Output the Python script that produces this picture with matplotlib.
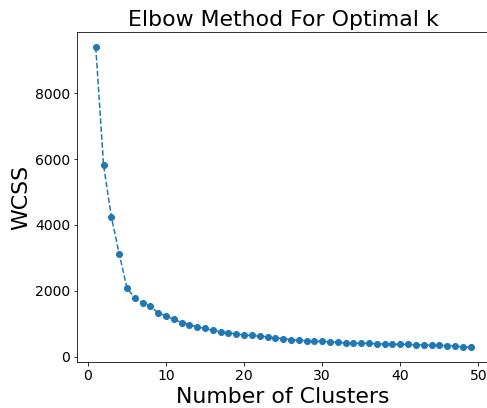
import matplotlib
matplotlib.use("Agg")
import matplotlib.pyplot as plt

k_values = list(range(1, 50))
wcss = [9400, 5820, 4245, 3130, 2080, 1790, 1640, 1530, 1330, 1235,
        1135, 1035, 970, 905, 860, 800, 760, 728, 690, 660,
        648, 620, 605, 568, 550, 518, 498, 486, 468, 466,
        455, 438, 418, 415, 406, 404, 394, 386, 384, 376,
        374, 364, 356, 354, 346, 336, 326, 298, 296]

DPI = 72
fig = plt.figure(figsize=(487 / DPI, 408 / DPI), dpi=DPI)
ax = fig.add_axes([77/487, (408-362)/408, (489.3-77)/487, (362-32)/408])
ax.plot(k_values, wcss, marker='o', linestyle='--', color='#1f77b4',
        markersize=6, linewidth=1.5)
ax.set_title("Elbow Method For Optimal k", fontsize=22)
ax.set_xlabel("Number of Clusters", fontsize=22)
ax.set_ylabel("WCSS", fontsize=22)
ax.tick_params(labelsize=14)
fig.savefig("out.png", dpi=DPI)
